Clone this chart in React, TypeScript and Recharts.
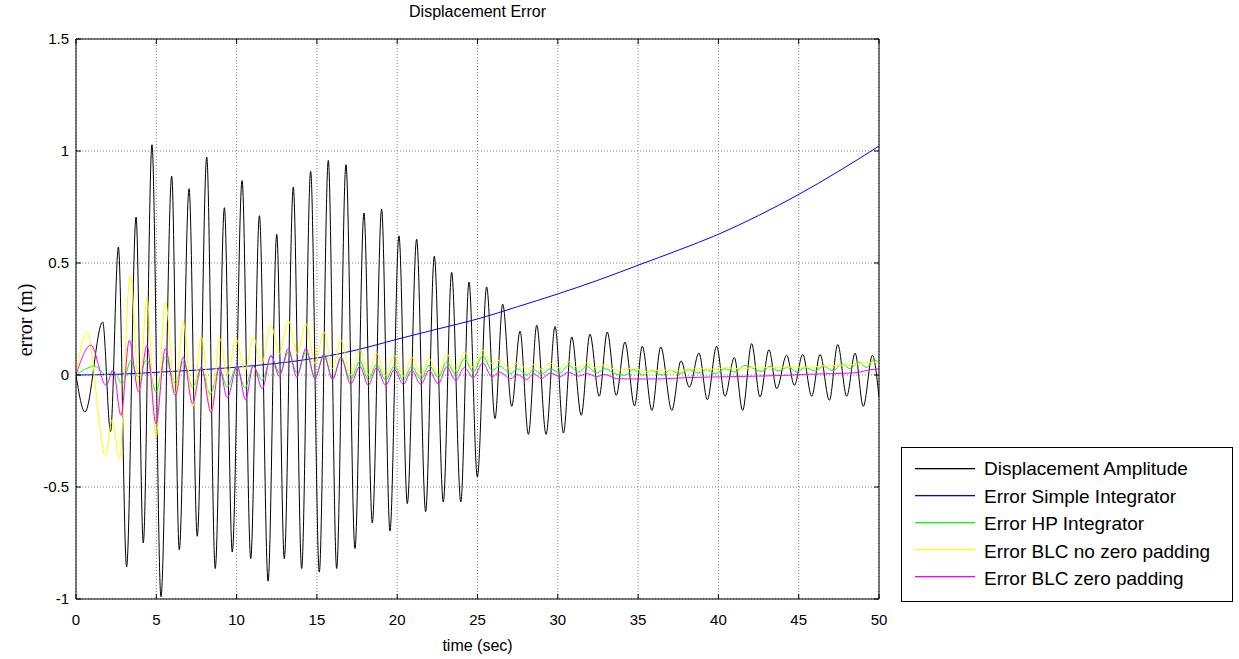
import React from "react";
import { CartesianGrid, Line, LineChart, XAxis, YAxis } from "recharts";

// [time (s), value (m)]
const displacement: [number, number][] = [
  [0, 0], [0.56, -0.165], [1.66, 0.237], [2.15, -0.252], [2.64, 0.571], [3.15, -0.857],
  [3.74, 0.705], [4.19, -0.75], [4.73, 1.028], [5.29, -0.99], [5.96, 0.888], [6.43, -0.78],
  [7.04, 0.832], [7.55, -0.72], [8.14, 0.973], [8.67, -0.864], [9.24, 0.747], [9.73, -0.79],
  [10.34, 0.868], [10.88, -0.82], [11.42, 0.711], [11.96, -0.92], [12.5, 0.628], [12.97, -0.82],
  [13.53, 0.839], [14.05, -0.864], [14.61, 0.909], [15.15, -0.88], [15.71, 0.958], [16.23, -0.864],
  [16.81, 0.939], [17.37, -0.775], [17.93, 0.723], [18.45, -0.66], [19.03, 0.74], [19.55, -0.696],
  [20.11, 0.621], [20.63, -0.574], [21.21, 0.606], [21.77, -0.61], [22.31, 0.53], [22.87, -0.567],
  [23.39, 0.458], [23.96, -0.567], [24.47, 0.415], [24.99, -0.455], [25.57, 0.393], [26.09, -0.195],
  [26.57, 0.316], [27.13, -0.14], [27.65, 0.196], [28.17, -0.265], [28.69, 0.222], [29.27, -0.265],
  [29.83, 0.217], [30.35, -0.259], [30.87, 0.17], [31.46, -0.18], [32.0, 0.182], [32.58, -0.095],
  [33.08, 0.192], [33.64, -0.091], [34.18, 0.147], [34.78, -0.138], [35.26, 0.128], [35.86, -0.158],
  [36.41, 0.125], [37.1, -0.158], [37.67, 0.063], [38.19, -0.054], [38.79, 0.098], [39.31, -0.11],
  [39.89, 0.128], [40.41, -0.095], [40.99, 0.078], [41.51, -0.158], [42.07, 0.14], [42.59, -0.098],
  [43.15, 0.113], [43.63, -0.061], [44.25, 0.088], [44.73, -0.046], [45.25, 0.092], [45.81, -0.095],
  [46.33, 0.092], [46.91, -0.113], [47.43, 0.136], [47.99, -0.095], [48.51, 0.098], [49.02, -0.14],
  [49.59, 0.088], [50, -0.1],
];

const simpleErr: [number, number][] = [
  [0, 0], [2.5, 0.003], [5, 0.012], [7.5, 0.022], [10, 0.035], [12.5, 0.052], [15, 0.076],
  [17.5, 0.112], [20, 0.16], [22.5, 0.205], [25, 0.25], [27.5, 0.305], [30, 0.362], [32.5, 0.423],
  [35, 0.49], [37.5, 0.557], [40, 0.628], [42.5, 0.712], [45, 0.806], [47.5, 0.91], [50, 1.022],
];

const hpErr: [number, number][] = [
  [0, 0], [1.2, 0.039], [1.91, -0.001], [2.28, 0.02], [2.9, -0.039], [3.42, 0.066], [3.84, -0.009],
  [4.42, 0.069], [4.98, -0.076], [5.56, 0.08], [6.19, -0.039], [6.68, 0.058], [7.26, -0.054],
  [7.8, 0.028], [8.36, -0.086], [8.92, 0.028], [9.42, -0.054], [10.0, 0.036], [10.52, -0.057],
  [11.04, 0.039], [11.6, -0.024], [12.14, 0.083], [12.7, 0.006], [13.22, 0.103], [13.78, 0.006],
  [14.32, 0.103], [14.88, -0.009], [15.44, 0.083], [15.98, -0.016], [16.5, 0.073], [17.1, -0.02],
  [17.68, 0.062], [18.2, -0.023], [18.72, 0.048], [19.28, -0.023], [19.82, 0.039], [20.38, -0.023],
  [20.9, 0.039], [21.48, -0.02], [21.98, 0.043], [22.56, -0.012], [23.08, 0.058], [23.64, 0.003],
  [24.18, 0.073], [24.74, 0.013], [25.33, 0.086], [25.9, 0.021], [26.4, 0.039], [27.07, 0.006],
  [27.48, 0.028], [28.07, 0.0], [28.48, 0.024], [29.0, 0.003], [29.52, 0.028], [30.14, 0.009],
  [30.66, 0.043], [31.28, 0.013], [31.8, 0.039], [32.42, 0.009], [32.94, 0.028], [33.67, 0.003],
  [34.18, -0.001], [34.7, 0.024], [35.32, -0.001], [35.84, 0.021], [36.47, -0.001], [36.98, 0.021],
  [37.6, 0.006], [38.13, 0.024], [38.75, 0.009], [39.27, 0.024], [39.79, 0.006], [40.41, 0.028],
  [41.03, 0.013], [41.65, 0.043], [42.7, 0.016], [43.22, 0.039], [43.74, 0.018], [44.36, 0.036],
  [44.88, 0.013], [45.4, 0.033], [46.02, 0.018], [46.54, 0.039], [47.16, 0.018], [47.68, 0.051],
  [48.2, 0.028], [48.72, 0.058], [49.24, 0.033], [49.65, 0.066], [50, 0.058],
];

const blcNoPad: [number, number][] = [
  [0, 0], [0.68, 0.192], [1.83, -0.358], [2.25, -0.2], [2.7, -0.375], [3.38, 0.445], [3.94, -0.068],
  [4.42, 0.341], [4.98, -0.277], [5.56, 0.326], [6.19, -0.083], [6.68, 0.237], [7.26, -0.143],
  [7.8, 0.17], [8.41, -0.165], [8.96, 0.162], [9.42, 0.0], [9.96, 0.162], [10.52, 0.02], [11.04, 0.17],
  [11.56, 0.05], [12.14, 0.222], [12.66, 0.095], [13.22, 0.244], [13.78, 0.095], [14.32, 0.229],
  [14.88, 0.05], [15.44, 0.192], [15.98, 0.028], [16.5, 0.155], [17.1, 0.0], [17.68, 0.113],
  [18.2, 0.0], [18.72, 0.098], [19.28, -0.003], [19.82, 0.088], [20.38, -0.005], [20.9, 0.08],
  [21.48, 0.0], [21.98, 0.073], [22.56, 0.0], [23.08, 0.095], [23.64, 0.02], [24.18, 0.103],
  [24.74, 0.033], [25.33, 0.11], [25.9, 0.05], [26.36, 0.066], [27.03, 0.028], [27.48, 0.054],
  [28.17, 0.024], [28.54, 0.05], [29.0, 0.024], [29.52, 0.054], [30.14, 0.03], [30.66, 0.06],
  [31.28, 0.032], [31.8, 0.054], [32.42, 0.03], [32.94, 0.045], [33.67, 0.021], [34.7, 0.03],
  [35.5, 0.016], [36.5, 0.022], [37.5, 0.018], [38.5, 0.03], [39.5, 0.026], [40.5, 0.032],
  [41.5, 0.028], [42.5, 0.036], [43.5, 0.032], [44.5, 0.036], [45.5, 0.035], [46.5, 0.04],
  [47.5, 0.044], [48.5, 0.048], [49.3, 0.056], [50, 0.058],
];

const blcPad: [number, number][] = [
  [0, 0], [0.93, 0.133], [1.87, -0.046], [2.32, 0.021], [2.8, -0.18], [3.32, 0.155], [3.9, -0.076],
  [4.42, 0.133], [4.98, -0.217], [5.56, 0.118], [6.19, -0.091], [6.68, 0.08], [7.26, -0.128],
  [7.8, 0.036], [8.41, -0.168], [8.92, 0.036], [9.42, -0.101], [10.04, 0.039], [10.56, -0.11],
  [11.04, 0.043], [11.6, -0.061], [12.14, 0.088], [12.66, -0.006], [13.22, 0.118], [13.74, -0.009],
  [14.32, 0.118], [14.88, -0.016], [15.44, 0.092], [15.98, -0.021], [16.5, 0.08], [17.1, -0.04],
  [17.68, 0.039], [18.2, -0.046], [18.72, 0.033], [19.28, -0.046], [19.82, 0.024], [20.38, -0.042],
  [20.9, 0.021], [21.48, -0.042], [21.98, 0.021], [22.56, -0.039], [23.08, 0.036], [23.64, -0.024],
  [24.18, 0.033], [24.74, -0.012], [25.33, 0.054], [25.9, -0.009], [26.36, 0.013], [27.07, -0.016],
  [27.48, 0.002], [28.07, -0.02], [28.48, 0.006], [29.0, -0.016], [29.52, 0.009], [30.14, -0.007],
  [30.66, 0.013], [31.28, -0.005], [31.8, 0.006], [32.42, -0.007], [32.94, 0.002], [33.67, -0.016],
  [35, -0.018], [36.5, -0.017], [38, -0.012], [39.5, -0.009], [41, -0.007], [42.5, -0.005],
  [44, -0.002], [45.5, 0.003], [47, 0.006], [48.5, 0.01], [49.5, 0.024], [50, 0.028],
];

const X_TICKS = [0, 5, 10, 15, 20, 25, 30, 35, 40, 45, 50];
const Y_TICKS = [-1, -0.5, 0, 0.5, 1, 1.5];

const SERIES = [
  { name: "Displacement Amplitude", color: "#000000", pts: displacement },
  { name: "Error Simple Integrator", color: "#0000ff", pts: simpleErr },
  { name: "Error HP Integrator", color: "#00ff00", pts: hpErr },
  { name: "Error BLC no zero padding", color: "#ffff00", pts: blcNoPad },
  { name: "Error BLC zero padding", color: "#ff00ff", pts: blcPad },
];

const SANS = "'Liberation Sans', Arial, sans-serif";
const TICK_FS = 15;

function BottomTick({ x, y, payload }: any) {
  return (
    <g>
      <line x1={x} y1={y} x2={x} y2={y - 5} stroke="#000" />
      <text x={x} y={y + 26} textAnchor="middle" fontSize={TICK_FS} fontFamily={SANS} fill="#000">
        {payload.value}
      </text>
    </g>
  );
}

function TopTick({ x, y }: any) {
  return <line x1={x} y1={y} x2={x} y2={y + 5} stroke="#000" />;
}

function LeftTick({ x, y, payload }: any) {
  return (
    <g>
      <line x1={x} y1={y} x2={x + 5} y2={y} stroke="#000" />
      <text x={x - 7} y={y + 5} textAnchor="end" fontSize={TICK_FS} fontFamily={SANS} fill="#000">
        {payload.value}
      </text>
    </g>
  );
}

function RightTick({ x, y }: any) {
  return <line x1={x} y1={y} x2={x - 5} y2={y} stroke="#000" />;
}

export default function App() {
  return (
    <div style={{ position: "absolute", left: 0, top: 0, width: 1239, height: 659, background: "#fff" }}>
      <LineChart width={1239} height={659} margin={{ top: 0, right: 0, bottom: 0, left: 0 }}>
        <CartesianGrid stroke="#808080" strokeDasharray="1 2" />
        <XAxis
          dataKey="t"
          type="number"
          domain={[0, 50]}
          ticks={X_TICKS}
          height={60}
          tickSize={0}
          tickMargin={0}
          tickLine={false}
          axisLine={{ stroke: "#000" }}
          tick={<BottomTick />}
          allowDataOverflow
        />
        <XAxis
          xAxisId="top"
          orientation="top"
          dataKey="t"
          type="number"
          domain={[0, 50]}
          ticks={X_TICKS}
          height={39}
          tickSize={0}
          tickMargin={0}
          tickLine={false}
          axisLine={{ stroke: "#000" }}
          tick={<TopTick />}
          allowDataOverflow
        />
        <YAxis
          type="number"
          domain={[-1, 1.5]}
          ticks={Y_TICKS}
          width={76}
          tickSize={0}
          tickMargin={0}
          tickLine={false}
          axisLine={{ stroke: "#000" }}
          tick={<LeftTick />}
          allowDataOverflow
        />
        <YAxis
          yAxisId="right"
          orientation="right"
          type="number"
          domain={[-1, 1.5]}
          ticks={Y_TICKS}
          width={360}
          tickSize={0}
          tickMargin={0}
          tickLine={false}
          axisLine={{ stroke: "#000" }}
          tick={<RightTick />}
          allowDataOverflow
        />
        {SERIES.map((s) => (
          <Line
            key={s.name}
            data={s.pts.map(([t, v]) => ({ t, v }))}
            dataKey="v"
            type="monotone"
            stroke={s.color}
            strokeWidth={1}
            dot={false}
            activeDot={false}
            isAnimationActive={false}
          />
        ))}
      </LineChart>

      <div
        style={{
          position: "absolute",
          left: 76,
          width: 803,
          top: 3,
          textAlign: "center",
          fontFamily: SANS,
          fontSize: 16,
        }}
      >
        Displacement Error
      </div>
      <div
        style={{
          position: "absolute",
          left: 76,
          width: 803,
          top: 637,
          textAlign: "center",
          fontFamily: SANS,
          fontSize: 16,
        }}
      >
        time (sec)
      </div>
      <svg style={{ position: "absolute", left: 0, top: 0 }} width={60} height={659}>
        <text
          transform="translate(32 320) rotate(-90)"
          textAnchor="middle"
          fontFamily="'Liberation Serif', 'Times New Roman', serif"
          fontSize={20}
          fill="#000"
        >
          error (m)
        </text>
      </svg>

      <svg
        style={{ position: "absolute", left: 901, top: 447 }}
        width={332}
        height={155}
        fontFamily={SANS}
        fontSize={19}
      >
        <rect x={0.5} y={0.5} width={331} height={154} fill="#fff" stroke="#000" />
        {SERIES.map((s, i) => (
          <g key={s.name}>
            <rect x={14} y={21 + i * 27} width={60} height={1.3} fill={s.color} />
            <text x={83} y={28 + i * 27.5} fill="#000">
              {s.name}
            </text>
          </g>
        ))}
      </svg>
    </div>
  );
}
